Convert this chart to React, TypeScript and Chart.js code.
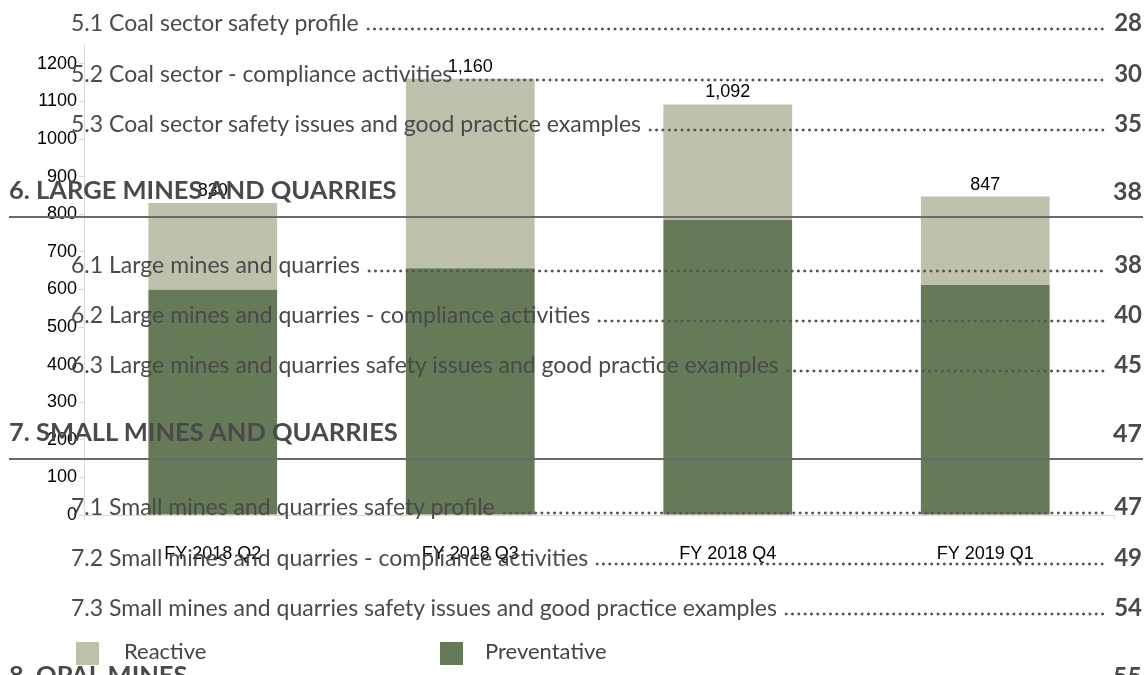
import React, { useEffect, useRef } from "react";
import { Chart, registerables } from "chart.js";

Chart.register(...registerables);

// ---- chart data ----
const categories = ["FY 2018 Q2", "FY 2018 Q3", "FY 2018 Q4", "FY 2019 Q1"];
const preventative = [599, 656, 785, 612];
const reactive = [231, 504, 307, 235];
const yTickValues = [0, 100, 200, 300, 400, 500, 600, 700, 800, 900, 1000, 1100, 1200];

// ---- overlay (table of contents) text ----
const tocLabels = [
  "5.1 Coal sector safety profile",
  "5.2 Coal sector - compliance activities",
  "5.3 Coal sector safety issues and good practice examples",
  "6. LARGE MINES AND QUARRIES",
  "6.1 Large mines and quarries",
  "6.2 Large mines and quarries - compliance activities",
  "6.3 Large mines and quarries safety issues and good practice examples",
  "7. SMALL MINES AND QUARRIES",
  "7.1 Small mines and quarries safety profile",
  "7.2 Small mines and quarries - compliance activities",
  "7.3 Small mines and quarries safety issues and good practice examples",
  "8. OPAL MINES",
];
const tocPages = ["28", "30", "35", "38", "38", "40", "45", "47", "47", "49", "54", "55"];
const tocIsHeading = [false, false, false, true, false, false, false, true, false, false, false, true];
const tocBaselines = [31, 82, 132, 200, 273, 323, 373, 442, 515, 566, 616, 685];

const legendLabels = ["Reactive", "Preventative"];

const COLOR_REACTIVE = "#bec2ad";
const COLOR_PREVENT = "#677a58";
const TEXT = "#4a4a4a";
const ASC = 0.887;
const CHART_FONT = "'Liberation Sans', Arial, sans-serif";

function TocRow({ i }: { i: number }) {
  const heading = tocIsHeading[i];
  const base = tocBaselines[i];
  const fs = heading ? 25.5 : 23;
  const pfs = heading ? 25 : 24;
  const items: any[] = [];
  if (heading) {
    items.push(
      <div key="t" style={{ position: "absolute", left: 9, top: base - ASC * fs, fontSize: fs, lineHeight: `${fs}px`, fontWeight: 700, whiteSpace: "nowrap", color: TEXT }}>
        {tocLabels[i]}
      </div>
    );
    items.push(
      <div key="l" style={{ position: "absolute", left: 9, top: base + 16, width: 1134, height: 2, background: "#6a6a6a" }} />
    );
  } else {
    items.push(
      <div key="t" style={{ position: "absolute", left: 71, top: base - ASC * fs, width: 1106 - 71, display: "flex", alignItems: "flex-start" }}>
        <span style={{ fontSize: fs, lineHeight: `${fs}px`, whiteSpace: "nowrap", color: TEXT }}>{tocLabels[i]}</span>
        <div
          style={{
            flex: 1,
            marginLeft: 6,
            height: 4,
            marginTop: ASC * fs - 4,
            backgroundImage: `radial-gradient(circle at center, #555 1.2px, transparent 1.8px)`,
            backgroundSize: "6.3px 4px",
            backgroundRepeat: "space no-repeat",
          }}
        />
      </div>
    );
  }
  items.push(
    <div key="p" style={{ position: "absolute", right: 6, top: base - ASC * pfs, fontSize: pfs, lineHeight: `${pfs}px`, fontWeight: 700, color: TEXT }}>
      {tocPages[i]}
    </div>
  );
  return <>{items}</>;
}

const totalsPlugin = {
  id: "totals",
  afterDatasetsDraw(chart: any) {
    const ctx = chart.ctx;
    const meta = chart.getDatasetMeta(1);
    ctx.save();
    ctx.font = `18px ${CHART_FONT}`;
    ctx.fillStyle = "#000";
    ctx.textAlign = "center";
    ctx.textBaseline = "alphabetic";
    meta.data.forEach((bar: any, idx: number) => {
      const total = preventative[idx] + reactive[idx];
      ctx.fillText(total.toLocaleString("en-US"), bar.x, bar.y - 7);
    });
    ctx.restore();
  },
};

export default function App() {
  const ref = useRef<HTMLCanvasElement | null>(null);
  useEffect(() => {
    if (!ref.current) return;
    const chart = new Chart(ref.current, {
      type: "bar",
      data: {
        labels: categories,
        datasets: [
          { label: "Preventative", data: preventative, backgroundColor: COLOR_PREVENT, borderWidth: 0 },
          { label: "Reactive", data: reactive, backgroundColor: COLOR_REACTIVE, borderWidth: 0 },
        ],
      },
      options: {
        responsive: false,
        animation: false,
        layout: { padding: { left: 0, right: 34, top: 45, bottom: 0 } },
        datasets: { bar: { categoryPercentage: 1, barPercentage: 0.5 } },
        plugins: { legend: { display: false }, tooltip: { enabled: false } },
        scales: {
          x: {
            stacked: true,
            grid: { drawOnChartArea: false, tickLength: 4, color: "#d9d9d9" },
            border: { color: "#d9d9d9" },
            ticks: { font: { family: CHART_FONT, size: 18 }, color: "#000", padding: 24, maxRotation: 0 },
            afterFit: (s: any) => { s.height = 160; },
          },
          y: {
            stacked: true,
            min: 0,
            max: 1250,
            grid: { drawOnChartArea: false, tickLength: 5, color: "#d9d9d9" },
            border: { color: "#d9d9d9" },
            ticks: {
              font: { family: CHART_FONT, size: 18 },
              color: "#000",
              padding: 2,
              callback: (v: any) => String(v),
            },
            afterBuildTicks: (s: any) => { s.ticks = yTickValues.map((v) => ({ value: v })); },
            afterFit: (s: any) => { s.width = 84; },
          },
        },
      },
      plugins: [totalsPlugin],
    });
    return () => chart.destroy();
  }, []);

  return (
    <div style={{ position: "absolute", left: 0, top: 0, width: 1148, height: 675, overflow: "hidden", background: "#fff", fontFamily: "Lato, 'Noto Sans', sans-serif" }}>
      <canvas ref={ref} width={1148} height={675} style={{ position: "absolute", left: 0, top: 0 }} />
      {tocLabels.map((_, i) => <TocRow key={i} i={i} />)}
      <div style={{ position: "absolute", left: 76, top: 642, width: 23, height: 23, background: COLOR_REACTIVE }} />
      <div style={{ position: "absolute", left: 124, top: 660 - ASC * 22, fontSize: 22, lineHeight: "22px", color: "#444" }}>{legendLabels[0]}</div>
      <div style={{ position: "absolute", left: 440, top: 642, width: 23, height: 23, background: COLOR_PREVENT }} />
      <div style={{ position: "absolute", left: 485, top: 660 - ASC * 22, fontSize: 22, lineHeight: "22px", color: "#444" }}>{legendLabels[1]}</div>
    </div>
  );
}
